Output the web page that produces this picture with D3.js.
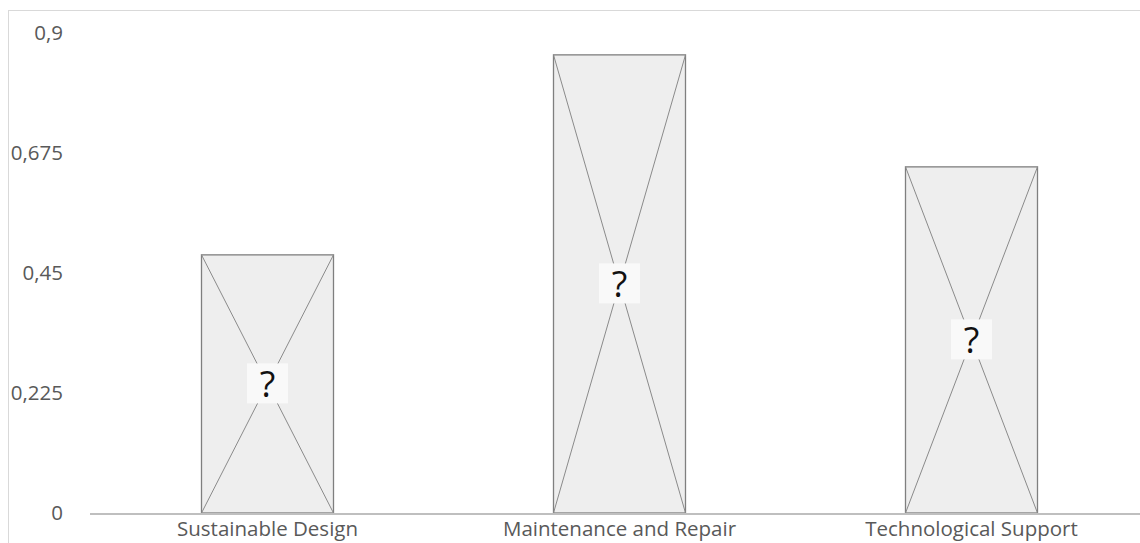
<!DOCTYPE html>
<html><head><meta charset="utf-8">
<script src="https://cdn.jsdelivr.net/npm/d3@7"></script>
<style>
html,body{margin:0;padding:0;background:#fff;overflow:hidden;}
svg{display:block;font-family:"Open Sans","Noto Sans",sans-serif;}
</style></head>
<body>
<svg id="chart" width="1140" height="543"></svg>
<script>
const categories = ["Sustainable Design", "Maintenance and Repair", "Technological Support"];
const values = [0.484, 0.859, 0.649];
const yTicks = [0, 0.225, 0.45, 0.675, 0.9];
const markerLabels = ["?", "?", "?"];

const svg = d3.select("#chart");
const W = 1140, H = 543;

// outer frame
svg.append("rect").attr("x", 8.5).attr("y", 10.5).attr("width", W + 10).attr("height", H + 10)
  .attr("fill", "none").attr("stroke", "#d9d9d9").attr("stroke-width", 1);

const x = d3.scaleBand().domain(categories).range([91.5, 1147.5]).paddingInner(0.625).paddingOuter(0.3125);
const y = d3.scaleLinear().domain([0, 0.9]).range([513, 33]);

const fmt = v => String(v).replace(".", ",");

// y axis labels
const yAxis = d3.axisLeft(y).tickValues(yTicks).tickFormat(fmt).tickSize(0).tickPadding(0);
const gy = svg.append("g").attr("transform", "translate(63,0)").call(yAxis);
gy.select(".domain").remove();
gy.selectAll("text").attr("fill", "#595959").style("font-size", "20.5px")
  .style("font-family", "\"Open Sans\",sans-serif");

// bars
const data = categories.map((c, i) => ({c, v: values[i], m: markerLabels[i]}));
const g = svg.append("g");
const bars = g.selectAll("g.bar").data(data).join("g").attr("class", "bar");
bars.append("rect")
  .attr("x", d => x(d.c)).attr("y", d => y(d.v))
  .attr("width", x.bandwidth()).attr("height", d => y(0) - y(d.v))
  .attr("fill", "#eeeeee").attr("stroke", "#7f7f7f").attr("stroke-width", 1.3);
bars.append("line")
  .attr("x1", d => x(d.c)).attr("y1", d => y(d.v))
  .attr("x2", d => x(d.c) + x.bandwidth()).attr("y2", y(0))
  .attr("stroke", "#8a8a8a").attr("stroke-width", 1);
bars.append("line")
  .attr("x1", d => x(d.c) + x.bandwidth()).attr("y1", d => y(d.v))
  .attr("x2", d => x(d.c)).attr("y2", y(0))
  .attr("stroke", "#8a8a8a").attr("stroke-width", 1);
bars.append("rect")
  .attr("x", d => x(d.c) + x.bandwidth() / 2 - 20.5)
  .attr("y", d => (y(d.v) + y(0)) / 2 - 20.5)
  .attr("width", 41).attr("height", 40)
  .attr("fill", "#f9f9f9");
bars.append("text")
  .attr("x", d => x(d.c) + x.bandwidth() / 2)
  .attr("y", d => (y(d.v) + y(0)) / 2 + 13.5)
  .attr("text-anchor", "middle").attr("fill", "#111")
  .style("font-size", "36px").text(d => d.m);

// x axis
const xAxis = d3.axisBottom(x).tickSize(0).tickPadding(0);
const gx = svg.append("g").attr("transform", `translate(0,${y(0)})`).call(xAxis);
gx.select(".domain").remove();
gx.selectAll("text").attr("fill", "#595959").style("font-size", "20.5px")
  .style("font-family", "\"Open Sans\",sans-serif").attr("dy", "0").attr("y", 23);
svg.append("line").attr("x1", 90).attr("x2", W).attr("y1", y(0) + 1).attr("y2", y(0) + 1)
  .attr("stroke", "#bfbfbf").attr("stroke-width", 2);
</script>
</body></html>
